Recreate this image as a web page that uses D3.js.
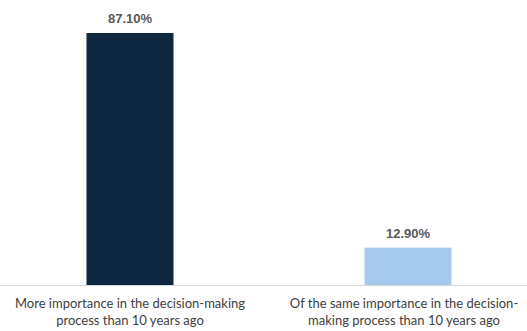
<!DOCTYPE html>
<html lang="en">
<head>
    <meta charset="UTF-8">
    <title>Importance in decision-making</title>
    <script src="https://cdn.jsdelivr.net/npm/d3@7"></script>
    <style>
        body { margin: 0; background: #fff; }
        svg { display: block; }
    </style>
</head>
<body>
    <div id="chart"></div>
    <script>
        // Data
        const categories = [
            "More importance in the decision-making process than 10 years ago",
            "Of the same importance in the decision-making process than 10 years ago"
        ];
        const labelLines = [
            ["More importance in the decision-making", "process than 10 years ago"],
            ["Of the same importance in the decision-", "making process than 10 years ago"]
        ];
        const values = [87.10, 12.90];
        const colors = ["#0f2841", "#a6c9eb"];

        const width = 527, height = 331;
        const baseY = 285;

        const svg = d3.select("#chart")
            .append("svg")
            .attr("width", width)
            .attr("height", height);

        const x = d3.scaleBand()
            .domain(categories)
            .range([-9, 547])
            .paddingInner(0.687)
            .paddingOuter(0.3435);

        const y = d3.scaleLinear()
            .domain([0, 87.1])
            .range([baseY, 33]);

        // Bars
        svg.selectAll("rect.bar")
            .data(values)
            .enter()
            .append("rect")
            .attr("class", "bar")
            .attr("x", (d, i) => x(categories[i]))
            .attr("y", d => y(d))
            .attr("width", x.bandwidth())
            .attr("height", d => baseY - y(d))
            .attr("fill", (d, i) => colors[i]);

        // Baseline
        svg.append("line")
            .attr("x1", 0)
            .attr("x2", width)
            .attr("y1", baseY + 0.5)
            .attr("y2", baseY + 0.5)
            .attr("stroke", "#d9d9d9")
            .attr("stroke-width", 1);

        // Value labels
        svg.selectAll("text.value")
            .data(values)
            .enter()
            .append("text")
            .attr("class", "value")
            .attr("x", (d, i) => x(categories[i]) + x.bandwidth() / 2)
            .attr("y", d => y(d) - 10)
            .attr("text-anchor", "middle")
            .style("font-family", "'Liberation Sans', Arial, sans-serif")
            .style("font-weight", "bold")
            .style("font-size", "13px")
            .style("fill", "#595959")
            .text(d => d.toFixed(2) + "%");

        // Category labels
        const cat = svg.selectAll("text.cat")
            .data(labelLines)
            .enter()
            .append("text")
            .attr("class", "cat")
            .attr("text-anchor", "middle")
            .style("font-family", "Lato, 'Open Sans', sans-serif")
            .style("font-size", "13px")
            .style("fill", "#404040");

        cat.selectAll("tspan")
            .data((d, i) => d.map(t => ({ t, i })))
            .enter()
            .append("tspan")
            .attr("x", d => x(categories[d.i]) + x.bandwidth() / 2 - (d.i === 1 ? 4 : 0))
            .attr("y", (d, j) => 307.5 + j * 17.5)
            .text(d => d.t);
    </script>
</body>
</html>
